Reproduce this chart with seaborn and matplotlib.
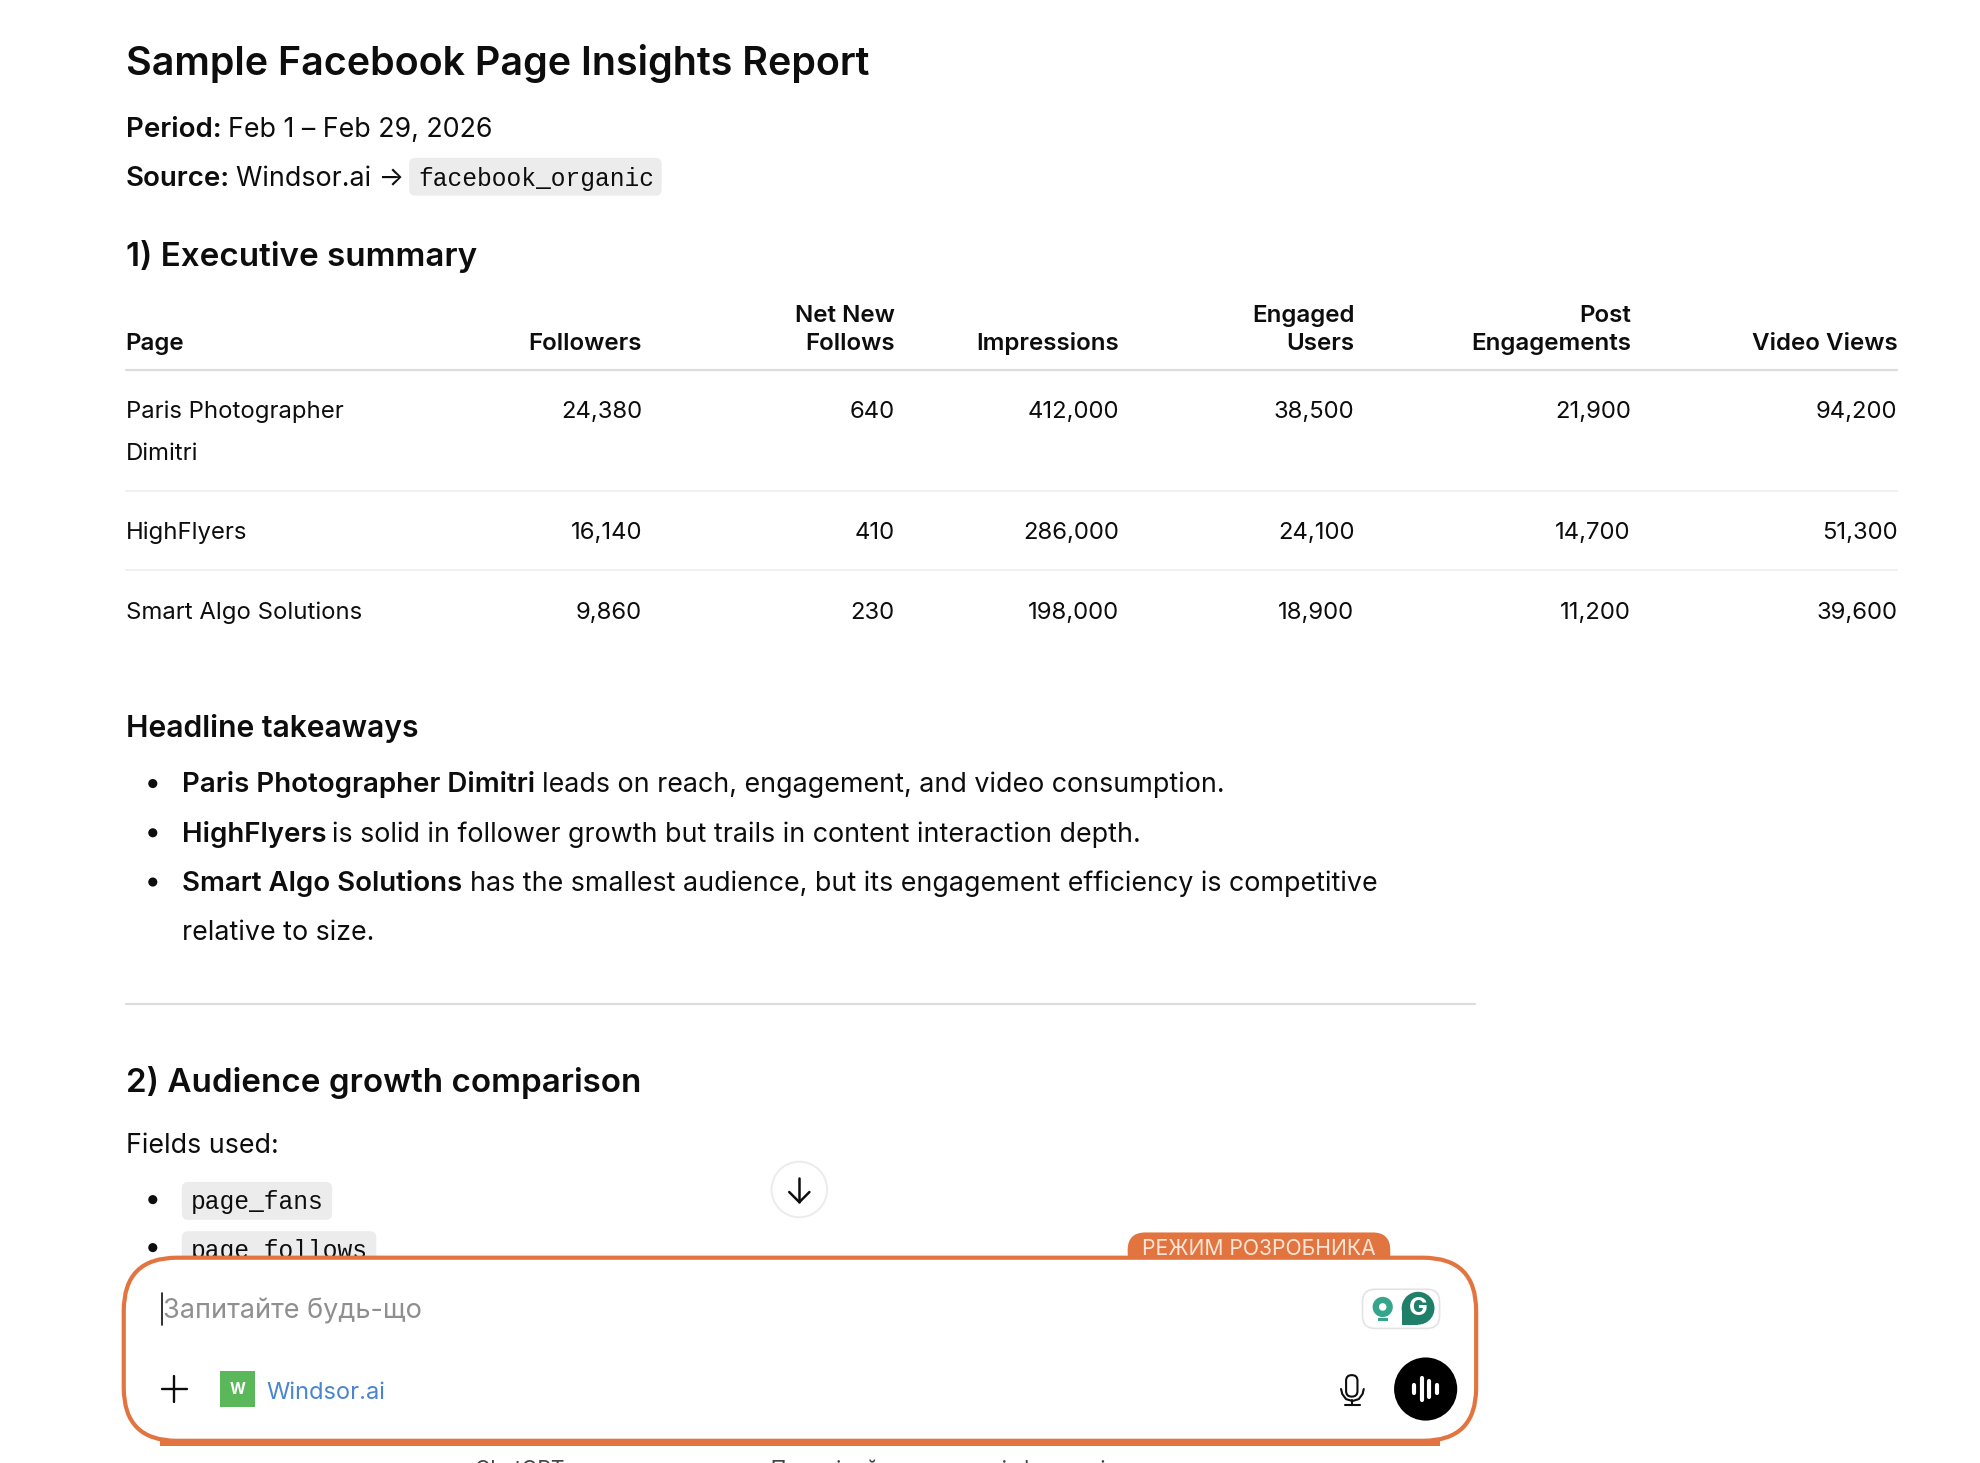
import matplotlib
matplotlib.use("Agg")
import matplotlib.pyplot as plt
from matplotlib.patches import FancyBboxPatch, Rectangle, Circle, Polygon
import seaborn as sns

sns.set_theme(style="white")
plt.rcParams['font.family'] = ['Inter', 'Noto Sans', 'DejaVu Sans']

title = "Sample Facebook Page Insights Report"
period = "Feb 1 – Feb 29, 2026"
columns = ["Followers", "Net New\nFollows", "Impressions", "Engaged\nUsers", "Post\nEngagements", "Video Views"]
pages = ["Paris Photographer\nDimitri", "HighFlyers", "Smart Algo Solutions"]
followers = [24380, 16140, 9860]
net_new = [640, 410, 230]
impressions = [412000, 286000, 198000]
engaged = [38500, 24100, 18900]
post_eng = [21900, 14700, 11200]
video = [94200, 51300, 39600]

INK = "#0d0d0d"
ORANGE = "#E2743F"
S = 1980 / 1568

fig = plt.figure(figsize=(19.8, 14.63), dpi=100, facecolor="white")
ax = fig.add_axes([0, 0, 1, 1])
ax.set_xlim(0, 1568)
ax.set_ylim(1463 / S, 0)
ax.axis("off")

def T(x, y, s, size=16.2, weight="normal", color=INK, ha="left", family=None, z=3, **kw):
    return ax.text(x, y, s, fontsize=size, fontweight=weight, color=color, ha=ha, va="baseline",
                   family=family if family else ['Inter', 'Noto Sans', 'DejaVu Sans'], zorder=z, **kw)

def pill(x0, y0, x1, y1, r=5, fc="#ececec", ec="none", lw=0, z=1):
    p = FancyBboxPatch((x0 + r, y0 + r), x1 - x0 - 2 * r, y1 - y0 - 2 * r,
                       boxstyle=f"round,pad={r},rounding_size={r}", fc=fc, ec=ec, lw=lw, zorder=z)
    ax.add_patch(p)
    return p

MONO = ['Liberation Mono', 'DejaVu Sans Mono']
H1, H2, H3, BODY, BOLD, TBL, TBLB = 28.4, 23.9, 21.7, 19.3, 19.9, 17.2, 17.4

# header
T(99.5, 59, title, H1, "semibold")
T(99.5, 108.5, "Period:", BOLD, "semibold")
T(180.5, 108.5, period, BODY)
T(99.5, 147.5, "Source:", BOLD, "semibold")
T(187, 147.5, "Windsor.ai →", BODY)
pill(324, 125, 524, 155)
T(331, 147.5, "facebook_organic", 17.7, family=MONO)
T(99.5, 211, "1) Executive summary", H2, "semibold")

# table
right_edges = [508.5, 708.5, 886.5, 1072.5, 1291.5, 1502.5]
T(99.5, 277, "Page", TBLB, "semibold")
for xr, c in zip(right_edges, columns):
    parts = c.split("\n")
    if len(parts) == 2:
        T(xr, 255, parts[0], TBLB, "semibold", ha="right")
    T(xr, 277, parts[-1], TBLB, "semibold", ha="right")
ax.plot([100, 1502], [293, 293], color="#dcdcdc", lw=1.6, zorder=2)
ax.plot([100, 1502], [388.5, 388.5], color="#f0f0f0", lw=1.4, zorder=2)
ax.plot([100, 1502], [451.5, 451.5], color="#f0f0f0", lw=1.4, zorder=2)

row_y = [331, 427, 490]
for y, pg, *vals in zip(row_y, pages, followers, net_new, impressions, engaged, post_eng, video):
    parts = pg.split("\n")
    T(99.5, y, parts[0], TBL)
    if len(parts) == 2:
        T(99.5, y + 33, parts[1], TBL)
    for xr, v in zip(right_edges, vals):
        T(xr, y, f"{v:,}", TBL, ha="right")

# takeaways
T(99.5, 583.5, "Headline takeaways", H3, "semibold")
bullets = [
    (627.5, "Paris Photographer Dimitri", 429, "leads on reach, engagement, and video consumption."),
    (666.5, "HighFlyers", 263, "is solid in follower growth but trails in content interaction depth."),
    (705.5, "Smart Algo Solutions", 372, "has the smallest audience, but its engagement efficiency is competitive"),
]
for y, b, x2, rest in bullets:
    ax.add_patch(Circle((121, y - 7), 3.6, fc=INK, ec="none", zorder=3))
    T(144, y, b, BOLD, "semibold")
    T(x2, y, rest, BODY)
T(144, 744.5, "relative to size.", BODY)
ax.plot([100, 1168], [795, 795], color="#dcdcdc", lw=1.6, zorder=2)

T(99.5, 865, "2) Audience growth comparison", H2, "semibold")
T(99.5, 913, "Fields used:", BODY)
ax.add_patch(Circle((121, 950), 3.6, fc=INK, ec="none", zorder=3))
pill(144, 936, 263, 966)
T(151, 957.5, "page_fans", 17.7, family=MONO)
ax.add_patch(Circle((121, 988), 3.6, fc=INK, ec="none", zorder=3))
pill(144, 975, 298, 1005)
T(151, 996.5, "page_follows", 17.7, family=MONO)

# scroll button
ax.add_patch(Circle((633, 942), 22, fc="white", ec="#ececec", lw=1.4, zorder=3))
ax.plot([633, 633], [933, 952], color=INK, lw=1.8, zorder=4)
ax.plot([625, 633, 641], [944, 952, 944], color=INK, lw=1.8, zorder=4)

# composer
ax.add_patch(Rectangle((127, 1138), 1013, 7, fc=ORANGE, ec="none", zorder=4))
pill(98, 996, 1169, 1141, r=42, fc="white", ec=ORANGE, lw=3, z=5)
pill(893, 976, 1101, 1006, r=14, fc=ORANGE, z=4)
ax.add_patch(Rectangle((893, 990), 208, 6, fc=ORANGE, ec="none", zorder=6))
T(997, 993.5, "РЕЖИМ РОЗРОБНИКА", 15.2, color="#fde6d8", ha="center", z=7)
ax.plot([128, 128], [1024, 1049], color=INK, lw=1.2, zorder=7)
T(129, 1044.5, "Запитайте будь-що", 19.5, color="#8f8f8f", z=7)

ax.plot([128, 148], [1100, 1100], color=INK, lw=1.7, zorder=7)
ax.plot([138, 138], [1090, 1110], color=INK, lw=1.7, zorder=7)
ax.add_patch(Rectangle((174, 1086), 28, 28, fc="#5bb85a", ec="none", zorder=7))
ax.text(188, 1100, "W", fontsize=11, fontweight="bold", color="white", ha="center", va="center", zorder=8)
T(211, 1108, "Windsor.ai", 17.05, color="#4a86d0", z=7)

# grammarly widget
pill(1079, 1021, 1140, 1052, r=10, fc="white", ec="#e3e3e3", lw=1.2, z=6)
ax.add_patch(Circle((1095, 1035), 8, fc="#35a58c", ec="none", zorder=7))
ax.add_patch(Rectangle((1091, 1044), 8, 2.4, fc="#35a58c", ec="none", zorder=7))
ax.add_patch(Circle((1095, 1035), 3, fc="white", ec="none", zorder=8))
ax.add_patch(Circle((1123, 1036), 13, fc="#1f7f69", ec="none", zorder=7))
ax.add_patch(Rectangle((1110, 1036), 13, 13, fc="#1f7f69", ec="none", zorder=7))
ax.text(1123, 1036, "G", fontsize=18, fontweight="bold", color="white", ha="center", va="center", zorder=8)

# mic
pill(1066, 1089, 1075, 1106, r=4.4, fc="white", ec=INK, lw=1.5, z=7)
ax.plot([1062, 1063, 1066, 1071, 1076, 1079, 1080], [1100, 1104, 1108, 1109.5, 1108, 1104, 1100], color=INK, lw=1.5, zorder=7)
ax.plot([1071, 1071], [1109, 1113], color=INK, lw=1.5, zorder=7)
ax.plot([1065, 1077], [1113, 1113], color=INK, lw=1.5, zorder=7)

# voice button
ax.add_patch(Circle((1129, 1100), 25, fc="black", ec="none", zorder=7))
for x, h in zip([1120, 1126, 1132, 1138], [3.5, 9, 6, 3.5]):
    ax.plot([x, x], [1100 - h, 1100 + h], color="white", lw=3, solid_capstyle="round", zorder=8)

# clipped footer (cut by the bottom edge in the reference too)
T(376, 1168.5, "ChatGPT може помилятися. Перевіряйте важливу інформацію.", 15.2, color="#444444", clip_on=True)

fig.savefig("out.png", dpi=100, facecolor="white")
